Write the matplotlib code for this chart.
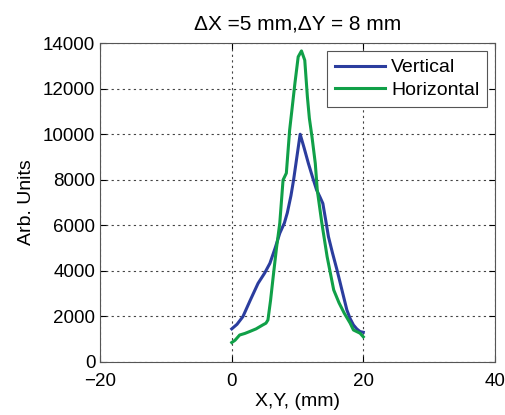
import numpy as np
import matplotlib.pyplot as plt

plt.rcParams['font.family'] = ['Liberation Sans', 'DejaVu Sans']

# profile (mm, arb. units)
x_vert = [0.0, 0.8, 1.7, 2.8, 4.0, 5.0, 5.8, 6.6, 7.3, 8.0, 8.45, 9.0, 9.4, 9.9, 10.4,
          11.0, 11.65, 12.3, 12.9, 13.4, 13.85, 14.3, 14.7, 15.3, 16.0, 16.8, 17.5, 18.0,
          18.5, 19.0, 19.5, 20.0]
y_vert = [1450, 1650, 1990, 2700, 3450, 3900, 4330, 5000, 5650, 6100, 6550, 7300, 7990,
          9000, 10000, 9400, 8720, 8100, 7550, 7250, 6960, 6200, 5500, 4800, 4040, 3100,
          2280, 1900, 1620, 1450, 1330, 1300]

x_horiz = [0.0, 0.5, 1.2, 2.0, 2.7, 3.7, 4.7, 5.2, 5.5, 5.9, 6.3, 6.8, 7.3, 7.8, 8.3,
           8.8, 9.2, 9.6, 10.1, 10.6, 11.1, 11.5, 11.8, 12.2, 12.7, 13.0, 13.7, 14.5,
           15.5, 16.3, 17.1, 18.0, 18.5, 19.5, 20.0]
y_horiz = [850, 950, 1180, 1250, 1330, 1450, 1620, 1700, 1840, 2700, 3740, 5000, 6090,
           7990, 8290, 10180, 11200, 12230, 13400, 13660, 13250, 11640, 10700, 9880, 8720,
           7550, 6090, 4620, 3160, 2600, 2140, 1700, 1400, 1260, 1100]

fig = plt.figure(figsize=(5.06, 4.15), dpi=100)
ax = fig.add_axes([0.198, 0.128, 0.78, 0.768])

ax.plot(x_vert, y_vert, color='#2b3d9e', lw=2.2, label='Vertical')
ax.plot(x_horiz, y_horiz, color='#10a048', lw=2.2, label='Horizontal')

ax.set_xlim(-20, 40)
ax.set_ylim(0, 14000)
ax.set_xticks([-20, 0, 20, 40])
ax.set_yticks(np.arange(0, 14001, 2000))
ax.grid(True, linestyle=(0, (2, 3)), color='#444444', lw=0.8)
ax.tick_params(direction='in', top=True, right=True, labelsize=13.5, length=4)
ax.tick_params(axis='x', pad=8)
for s in ax.spines.values():
    s.set_color('#555555')

ax.set_xlabel('X,Y, (mm)', fontsize=14, labelpad=2)
ax.set_ylabel('Arb. Units', fontsize=14, labelpad=6)
ax.set_title('\u0394X =5 mm,\u0394Y = 8 mm', fontsize=15, pad=10)

leg = ax.legend(loc='upper right', fontsize=14, fancybox=False, framealpha=1,
                edgecolor='#555555', handlelength=2.6, handletextpad=0.3,
                borderaxespad=0.4, labelspacing=0.25)
leg.get_frame().set_linewidth(0.8)

plt.savefig('out.png', dpi=100)
